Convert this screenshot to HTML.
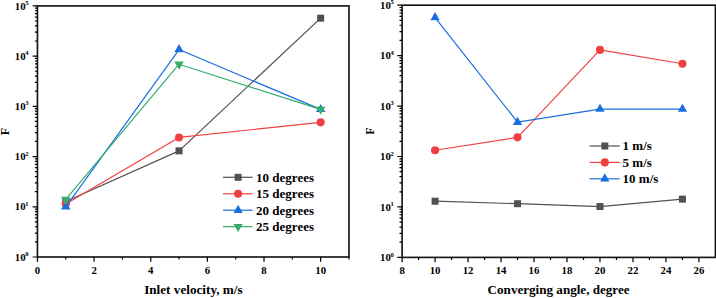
<!DOCTYPE html>
<html><head><meta charset="utf-8"><style>
html,body{margin:0;padding:0;background:#fff;}
body{width:716px;height:298px;overflow:hidden;}
svg{display:block;}
text{font-family:"Liberation Serif",serif;font-weight:bold;fill:#000;}
.t{font-size:10.8px;}
.s{font-size:6.6px;}
.lg{font-size:13px;}
.ti{font-size:13.2px;}
.f{font-size:12.1px;}
</style></head><body>
<svg width="716" height="298" viewBox="0 0 716 298">
<rect width="716" height="298" fill="#fff"/>
<g>
<rect x="37.45" y="5.9" width="311.52" height="251.1" fill="none" stroke="#151515" stroke-width="1.65"/>
<path d="M34.85 241.88H37.45M34.85 233.04H37.45M34.85 226.76H37.45M34.85 221.9H37.45M34.85 217.92H37.45M34.85 214.56H37.45M34.85 211.65H37.45M34.85 209.08H37.45M34.85 191.66H37.45M34.85 182.82H37.45M34.85 176.54H37.45M34.85 171.68H37.45M34.85 167.7H37.45M34.85 164.34H37.45M34.85 161.43H37.45M34.85 158.86H37.45M34.85 141.44H37.45M34.85 132.6H37.45M34.85 126.32H37.45M34.85 121.46H37.45M34.85 117.48H37.45M34.85 114.12H37.45M34.85 111.21H37.45M34.85 108.64H37.45M34.85 91.22H37.45M34.85 82.38H37.45M34.85 76.1H37.45M34.85 71.24H37.45M34.85 67.26H37.45M34.85 63.9H37.45M34.85 60.99H37.45M34.85 58.42H37.45M34.85 41H37.45M34.85 32.16H37.45M34.85 25.88H37.45M34.85 21.02H37.45M34.85 17.04H37.45M34.85 13.68H37.45M34.85 10.77H37.45M34.85 8.2H37.45M32.65 257H37.45M32.65 206.78H37.45M32.65 156.56H37.45M32.65 106.34H37.45M32.65 56.12H37.45M32.65 5.9H37.45" stroke="#000" stroke-width="1.2" fill="none"/>
<text x="28.6" y="260.7" text-anchor="end" class="t">10<tspan class="s" dx="-0.3" dy="-4.6">0</tspan></text>
<text x="28.6" y="210.48" text-anchor="end" class="t">10<tspan class="s" dx="-0.3" dy="-4.6">1</tspan></text>
<text x="28.6" y="160.26" text-anchor="end" class="t">10<tspan class="s" dx="-0.3" dy="-4.6">2</tspan></text>
<text x="28.6" y="110.04" text-anchor="end" class="t">10<tspan class="s" dx="-0.3" dy="-4.6">3</tspan></text>
<text x="28.6" y="59.82" text-anchor="end" class="t">10<tspan class="s" dx="-0.3" dy="-4.6">4</tspan></text>
<text x="28.6" y="9.6" text-anchor="end" class="t">10<tspan class="s" dx="-0.3" dy="-4.6">5</tspan></text>
<path d="M65.77 257V259.6M122.41 257V259.6M179.05 257V259.6M235.69 257V259.6M292.33 257V259.6M348.97 257V259.6M37.45 257V261.8M94.09 257V261.8M150.73 257V261.8M207.37 257V261.8M264.01 257V261.8M320.65 257V261.8" stroke="#000" stroke-width="1.2" fill="none"/>
<text x="37.45" y="273.8" text-anchor="middle" class="t">0</text>
<text x="94.09" y="273.8" text-anchor="middle" class="t">2</text>
<text x="150.73" y="273.8" text-anchor="middle" class="t">4</text>
<text x="207.37" y="273.8" text-anchor="middle" class="t">6</text>
<text x="264.01" y="273.8" text-anchor="middle" class="t">8</text>
<text x="320.65" y="273.8" text-anchor="middle" class="t">10</text>
<path d="M65.77 201.57L179.05 150.84L320.65 18.16" fill="none" stroke="#515151" stroke-width="1.2" stroke-linejoin="round"/>
<rect x="62.27" y="198.07" width="7" height="7" fill="#515151"/>
<rect x="175.55" y="147.34" width="7" height="7" fill="#515151"/>
<rect x="317.15" y="14.66" width="7" height="7" fill="#515151"/>
<path d="M65.77 203.92L179.05 137.47L320.65 122.35" fill="none" stroke="#F14040" stroke-width="1.2" stroke-linejoin="round"/>
<circle cx="65.77" cy="203.92" r="4.05" fill="#F14040"/>
<circle cx="179.05" cy="137.47" r="4.05" fill="#F14040"/>
<circle cx="320.65" cy="122.35" r="4.05" fill="#F14040"/>
<path d="M65.77 206.78L179.05 49.57L320.65 109.38" fill="none" stroke="#1A6FDF" stroke-width="1.2" stroke-linejoin="round"/>
<path d="M65.77 201.31L70.47 209.51L61.07 209.51Z" fill="#1A6FDF"/>
<path d="M179.05 44.11L183.75 52.31L174.35 52.31Z" fill="#1A6FDF"/>
<path d="M320.65 103.91L325.35 112.11L315.95 112.11Z" fill="#1A6FDF"/>
<path d="M65.77 199.44L179.05 64.21L320.65 109.38" fill="none" stroke="#37AD6B" stroke-width="1.2" stroke-linejoin="round"/>
<path d="M61.07 196.71L70.47 196.71L65.77 204.91Z" fill="#37AD6B"/>
<path d="M174.35 61.48L183.75 61.48L179.05 69.68Z" fill="#37AD6B"/>
<path d="M315.95 106.64L325.35 106.64L320.65 114.84Z" fill="#37AD6B"/>
<path d="M223 177.3H252.6" stroke="#515151" stroke-width="1.2"/>
<rect x="234.6" y="173.8" width="7" height="7" fill="#515151"/>
<text x="256.1" y="181.6" class="lg">10 degrees</text>
<path d="M223 193.75H252.6" stroke="#F14040" stroke-width="1.2"/>
<circle cx="238.1" cy="193.75" r="4.05" fill="#F14040"/>
<text x="256.1" y="198.05" class="lg">15 degrees</text>
<path d="M223 210.2H252.6" stroke="#1A6FDF" stroke-width="1.2"/>
<path d="M238.1 204.73L242.8 212.93L233.4 212.93Z" fill="#1A6FDF"/>
<text x="256.1" y="214.5" class="lg">20 degrees</text>
<path d="M223 226.65H252.6" stroke="#37AD6B" stroke-width="1.2"/>
<path d="M233.4 223.92L242.8 223.92L238.1 232.12Z" fill="#37AD6B"/>
<text x="256.1" y="230.95" class="lg">25 degrees</text>
<text x="193.4" y="294.1" text-anchor="middle" class="ti">Inlet velocity, m/s</text>
<text transform="translate(8.5 131.5) rotate(-90)" text-anchor="middle" class="f">F</text>
</g>
<g>
<rect x="402.1" y="5.2" width="313.31" height="252.2" fill="none" stroke="#151515" stroke-width="1.65"/>
<path d="M399.5 242.22H402.1M399.5 233.33H402.1M399.5 227.03H402.1M399.5 222.14H402.1M399.5 218.15H402.1M399.5 214.77H402.1M399.5 211.85H402.1M399.5 209.27H402.1M399.5 191.78H402.1M399.5 182.89H402.1M399.5 176.59H402.1M399.5 171.7H402.1M399.5 167.71H402.1M399.5 164.33H402.1M399.5 161.41H402.1M399.5 158.83H402.1M399.5 141.34H402.1M399.5 132.45H402.1M399.5 126.15H402.1M399.5 121.26H402.1M399.5 117.27H402.1M399.5 113.89H402.1M399.5 110.97H402.1M399.5 108.39H402.1M399.5 90.9H402.1M399.5 82.01H402.1M399.5 75.71H402.1M399.5 70.82H402.1M399.5 66.83H402.1M399.5 63.45H402.1M399.5 60.53H402.1M399.5 57.95H402.1M399.5 40.46H402.1M399.5 31.57H402.1M399.5 25.27H402.1M399.5 20.38H402.1M399.5 16.39H402.1M399.5 13.01H402.1M399.5 10.09H402.1M399.5 7.51H402.1M397.3 257.4H402.1M397.3 206.96H402.1M397.3 156.52H402.1M397.3 106.08H402.1M397.3 55.64H402.1M397.3 5.2H402.1" stroke="#000" stroke-width="1.2" fill="none"/>
<text x="393.8" y="261.1" text-anchor="end" class="t">10<tspan class="s" dx="-0.3" dy="-4.6">0</tspan></text>
<text x="393.8" y="210.66" text-anchor="end" class="t">10<tspan class="s" dx="-0.3" dy="-4.6">1</tspan></text>
<text x="393.8" y="160.22" text-anchor="end" class="t">10<tspan class="s" dx="-0.3" dy="-4.6">2</tspan></text>
<text x="393.8" y="109.78" text-anchor="end" class="t">10<tspan class="s" dx="-0.3" dy="-4.6">3</tspan></text>
<text x="393.8" y="59.34" text-anchor="end" class="t">10<tspan class="s" dx="-0.3" dy="-4.6">4</tspan></text>
<text x="393.8" y="8.9" text-anchor="end" class="t">10<tspan class="s" dx="-0.3" dy="-4.6">5</tspan></text>
<path d="M418.59 257.4V260M451.57 257.4V260M484.55 257.4V260M517.53 257.4V260M550.51 257.4V260M583.49 257.4V260M616.47 257.4V260M649.45 257.4V260M682.43 257.4V260M402.1 257.4V262.2M435.08 257.4V262.2M468.06 257.4V262.2M501.04 257.4V262.2M534.02 257.4V262.2M567 257.4V262.2M599.98 257.4V262.2M632.96 257.4V262.2M665.94 257.4V262.2M698.92 257.4V262.2" stroke="#000" stroke-width="1.2" fill="none"/>
<text x="402.1" y="273.8" text-anchor="middle" class="t">8</text>
<text x="435.08" y="273.8" text-anchor="middle" class="t">10</text>
<text x="468.06" y="273.8" text-anchor="middle" class="t">12</text>
<text x="501.04" y="273.8" text-anchor="middle" class="t">14</text>
<text x="534.02" y="273.8" text-anchor="middle" class="t">16</text>
<text x="567" y="273.8" text-anchor="middle" class="t">18</text>
<text x="599.98" y="273.8" text-anchor="middle" class="t">20</text>
<text x="632.96" y="273.8" text-anchor="middle" class="t">22</text>
<text x="665.94" y="273.8" text-anchor="middle" class="t">24</text>
<text x="698.92" y="273.8" text-anchor="middle" class="t">26</text>
<path d="M435.08 201.21L517.53 203.71L599.98 206.53L682.43 199.12" fill="none" stroke="#515151" stroke-width="1.2" stroke-linejoin="round"/>
<rect x="431.58" y="197.71" width="7" height="7" fill="#515151"/>
<rect x="514.03" y="200.21" width="7" height="7" fill="#515151"/>
<rect x="596.48" y="203.03" width="7" height="7" fill="#515151"/>
<rect x="678.93" y="195.62" width="7" height="7" fill="#515151"/>
<path d="M435.08 150.27L517.53 137.34L599.98 49.89L682.43 63.77" fill="none" stroke="#F14040" stroke-width="1.2" stroke-linejoin="round"/>
<circle cx="435.08" cy="150.27" r="4.05" fill="#F14040"/>
<circle cx="517.53" cy="137.34" r="4.05" fill="#F14040"/>
<circle cx="599.98" cy="49.89" r="4.05" fill="#F14040"/>
<circle cx="682.43" cy="63.77" r="4.05" fill="#F14040"/>
<path d="M435.08 17.51L517.53 122.16L599.98 109.13L682.43 109.13" fill="none" stroke="#1A6FDF" stroke-width="1.2" stroke-linejoin="round"/>
<path d="M435.08 12.05L439.78 20.25L430.38 20.25Z" fill="#1A6FDF"/>
<path d="M517.53 116.69L522.23 124.89L512.83 124.89Z" fill="#1A6FDF"/>
<path d="M599.98 103.66L604.68 111.86L595.28 111.86Z" fill="#1A6FDF"/>
<path d="M682.43 103.66L687.13 111.86L677.73 111.86Z" fill="#1A6FDF"/>
<path d="M589.6 146H619.7" stroke="#515151" stroke-width="1.2"/>
<rect x="601.3" y="142.5" width="7" height="7" fill="#515151"/>
<text x="622.6" y="150.3" class="lg">1 m/s</text>
<path d="M589.6 162.4H619.7" stroke="#F14040" stroke-width="1.2"/>
<circle cx="604.8" cy="162.4" r="4.05" fill="#F14040"/>
<text x="622.6" y="166.7" class="lg">5 m/s</text>
<path d="M589.6 178.8H619.7" stroke="#1A6FDF" stroke-width="1.2"/>
<path d="M604.8 173.33L609.5 181.53L600.1 181.53Z" fill="#1A6FDF"/>
<text x="622.6" y="183.1" class="lg">10 m/s</text>
<text x="558.6" y="294.0" text-anchor="middle" class="ti" style="font-size:13.1px">Converging angle, degree</text>
<text transform="translate(373.8 131) rotate(-90)" text-anchor="middle" class="f">F</text>
</g>
</svg>
</body></html>
